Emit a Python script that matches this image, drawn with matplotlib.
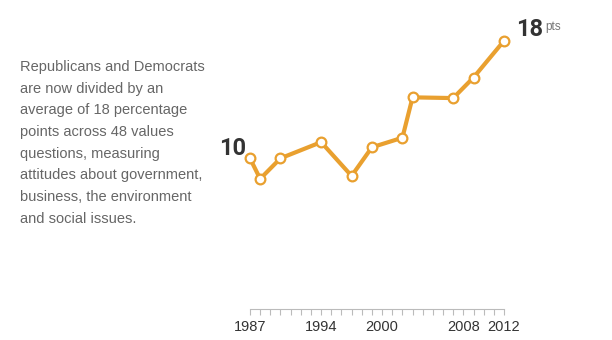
import matplotlib
matplotlib.use('Agg')
import matplotlib.pyplot as plt
from matplotlib.ticker import FixedLocator

plt.rcParams['font.family'] = ['Liberation Sans', 'DejaVu Sans']

years = [1987, 1988, 1990, 1994, 1997, 1999, 2002, 2003, 2007, 2009, 2012]
gap = [10.0, 8.6, 10.0, 11.1, 8.8, 10.75, 11.4, 14.15, 14.1, 15.5, 18.0]
label_years = [1987, 1994, 2000, 2008, 2012]

note = ("Republicans and Democrats\n"
        "are now divided by an\n"
        "average of 18 percentage\n"
        "points across 48 values\n"
        "questions, measuring\n"
        "attitudes about government,\n"
        "business, the environment\n"
        "and social issues.")

ORANGE = '#E9A02F'

fig = plt.figure(figsize=(6.12, 3.4), dpi=100)
ax = fig.add_axes([0, 0, 1, 1])

# pixel layout: 1987 -> x=250, 2012 -> x=504 ; value 10 -> y=158, 18 -> y=41
ppy = 254.0 / 25
ppv = 117.5 / 8
ax.set_xlim(1987 - 250 / ppy, 2012 + (612 - 504) / ppy)
ax.set_ylim(10 - (340 - 158.3) / ppv, 18 + 40.8 / ppv)

ax.plot(years, gap, color=ORANGE, lw=3, marker='o', ms=7,
        mfc='white', mec=ORANGE, mew=1.6, solid_joinstyle='miter', clip_on=False, zorder=3)

# start / end labels
ax.annotate(f'{gap[0]:.0f}', (years[0], gap[0]), xytext=(-4, 10), textcoords='offset pixels',
            ha='right', va='center', fontsize=17, fontweight='bold', color='#333333',
            family=['Roboto', 'DejaVu Sans'])
ax.annotate(f'{gap[-1]:.0f}', (years[-1], gap[-1]), xytext=(12, 11), textcoords='offset pixels',
            ha='left', va='center', fontsize=17, fontweight='bold', color='#333333',
            family=['Roboto', 'DejaVu Sans'])
ax.annotate('pts', (years[-1], gap[-1]), xytext=(41, 14), textcoords='offset pixels',
            ha='left', va='center', fontsize=8.5, color='#777777')

# year axis
for s in ['top', 'left', 'right']:
    ax.spines[s].set_visible(False)
ax.spines['bottom'].set_position(('data', 10 - (309 - 158.3) / ppv))
ax.spines['bottom'].set_bounds(years[0], years[-1])
ax.spines['bottom'].set_color('#bbbbbb')
ax.spines['bottom'].set_linewidth(0.8)
ax.xaxis.set_major_locator(FixedLocator(label_years))
ax.xaxis.set_minor_locator(FixedLocator(range(years[0], years[-1] + 1)))
ax.tick_params(axis='x', which='both', direction='out', length=4, width=0.8,
               color='#bbbbbb', labelsize=10.5, labelcolor='#333333', pad=4)
ax.set_yticks([])
ax.set_facecolor('none')

fig.text(20 / 612, 1 - 60 / 340, note, ha='left', va='top', fontsize=10.5,
         color='#666666', linespacing=1.70)

fig.savefig('out.png', dpi=100)
